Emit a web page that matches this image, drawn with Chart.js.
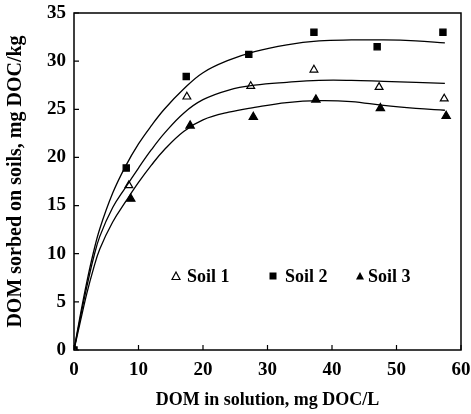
<!DOCTYPE html>
<html>
<head>
<meta charset="utf-8">
<script src="https://cdn.jsdelivr.net/npm/chart.js@4.4.1/dist/chart.umd.min.js"></script>
<style>
  html, body { margin: 0; padding: 0; background: #fff; }
  #wrap { width: 471px; height: 414px; position: relative; }
</style>
</head>
<body>
<div id="wrap"><canvas id="chart"></canvas></div>
<script>
// measured points (DOM in solution, DOM sorbed)
const soil1X = [0, 8.5, 17.5, 27.4, 37.2, 47.3, 57.4];
const soil1Y = [0, 17.1, 26.3, 27.4, 29.1, 27.3, 26.1];
const soil2X = [0, 8.1, 17.4, 27.1, 37.2, 47.0, 57.2];
const soil2Y = [0, 18.9, 28.4, 30.7, 33.0, 31.5, 33.0];
const soil3X = [0, 8.8, 18.0, 27.8, 37.5, 47.5, 57.7];
const soil3Y = [0, 15.7, 23.3, 24.2, 26.0, 25.1, 24.3];

// fitted curves
const fitX = [0, 1, 2, 3, 4, 6, 8, 10, 12, 14, 17, 20, 24, 28, 33, 38, 43, 48, 53, 57.5];
const fit1Y = [0, 3.4, 6.6, 9.5, 11.8, 14.8, 16.9, 18.9, 20.8, 22.5, 24.6, 26.0, 27.0, 27.5, 27.8, 28.0, 28.0, 27.9, 27.8, 27.7];
const fit2Y = [0, 3.7, 7.1, 10.1, 12.6, 16.3, 19.1, 21.4, 23.3, 25.0, 27.1, 28.8, 30.1, 31.0, 31.7, 32.1, 32.2, 32.2, 32.1, 31.9];
const fit3Y = [0, 3.0, 5.9, 8.4, 10.5, 13.3, 15.4, 17.4, 19.2, 20.8, 22.7, 23.9, 24.7, 25.2, 25.7, 25.9, 25.8, 25.4, 25.1, 24.9];

const legendLabels = ["Soil 1", "Soil 2", "Soil 3"];

const xy = (xs, ys) => xs.map((x, i) => ({ x: x, y: ys[i] }));
const serif = "'Liberation Serif', 'DejaVu Serif', serif";

function fitLine(ys) {
  return {
    type: "line",
    data: xy(fitX, ys),
    borderColor: "#000",
    borderWidth: 1.3,
    pointRadius: 0,
    tension: 0.4,
    fill: false
  };
}

function marks(xs, ys, style, fillColor, r) {
  return {
    type: "scatter",
    data: xy(xs, ys),
    pointStyle: style,
    pointRadius: r,
    pointBackgroundColor: fillColor,
    pointBorderColor: "#000",
    pointBorderWidth: 1.2
  };
}

// box around plot + inward tick marks
const framePlugin = {
  id: "frame",
  afterDraw(chart) {
    const { ctx, chartArea: a, scales } = chart;
    ctx.save();
    ctx.strokeStyle = "#000";
    ctx.lineWidth = 1.5;
    ctx.strokeRect(a.left, a.top, a.right - a.left, a.bottom - a.top);
    ctx.lineWidth = 1.2;
    ctx.beginPath();
    scales.x.ticks.forEach(t => {
      const px = scales.x.getPixelForValue(t.value);
      ctx.moveTo(px, a.bottom);
      ctx.lineTo(px, a.bottom - 5);
    });
    scales.y.ticks.forEach(t => {
      const py = scales.y.getPixelForValue(t.value);
      ctx.moveTo(a.left, py);
      ctx.lineTo(a.left + 5, py);
    });
    ctx.stroke();
    ctx.restore();
  }
};

// legend sits inside the plot
const legendPlugin = {
  id: "inlineLegend",
  afterDraw(chart) {
    const { ctx } = chart;
    const y = 276;
    const items = [
      { mx: 176, tx: 187, shape: "tri", fill: false },
      { mx: 273, tx: 285, shape: "rect", fill: true },
      { mx: 360, tx: 368, shape: "tri", fill: true }
    ];
    ctx.save();
    ctx.fillStyle = "#000";
    ctx.strokeStyle = "#000";
    ctx.lineWidth = 1.2;
    ctx.font = "bold 18px " + serif;
    ctx.textBaseline = "middle";
    items.forEach((it, i) => {
      ctx.beginPath();
      if (it.shape === "rect") {
        ctx.rect(it.mx - 3.5, y - 3.5, 7, 7);
      } else {
        ctx.moveTo(it.mx, y - 4);
        ctx.lineTo(it.mx + 4, y + 3.5);
        ctx.lineTo(it.mx - 4, y + 3.5);
        ctx.closePath();
      }
      if (it.fill) ctx.fill(); else ctx.stroke();
      ctx.fillText(legendLabels[i], it.tx, y + 1);
    });
    ctx.restore();
  }
};

new Chart(document.getElementById("chart"), {
  data: {
    datasets: [
      fitLine(fit1Y),
      fitLine(fit2Y),
      fitLine(fit3Y),
      marks(soil1X, soil1Y, "triangle", "#fff", 4.5),
      marks(soil2X, soil2Y, "rect", "#000", 4.4),
      marks(soil3X, soil3Y, "triangle", "#000", 4.8)
    ]
  },
  options: {
    responsive: true,
    maintainAspectRatio: false,
    animation: false,
    layout: { padding: { top: 13, right: 10, left: 0, bottom: 0 } },
    plugins: {
      legend: { display: false },
      tooltip: { enabled: false }
    },
    scales: {
      x: {
        type: "linear",
        min: 0,
        max: 60,
        grid: { display: false, drawTicks: false },
        border: { display: false },
        ticks: {
          stepSize: 10,
          color: "#000",
          padding: 9,
          font: { family: serif, size: 19, weight: "bold" }
        },
        title: {
          display: true,
          text: "DOM in solution, mg DOC/L",
          color: "#000",
          font: { family: serif, size: 18, weight: "bold" },
          padding: { top: 4, bottom: 3 }
        },
        afterFit: s => {
          s.height = 64;
          s.paddingLeft = 0;
          s.paddingRight = 0;
        }
      },
      y: {
        type: "linear",
        min: 0,
        max: 35,
        grid: { display: false, drawTicks: false },
        border: { display: false },
        ticks: {
          stepSize: 5,
          color: "#000",
          padding: 8,
          font: { family: serif, size: 19, weight: "bold" }
        },
        title: {
          display: true,
          text: "DOM sorbed on soils, mg DOC/kg",
          color: "#000",
          font: { family: serif, size: 20, weight: "bold" },
          padding: { top: 4, bottom: 4 }
        },
        afterFit: s => {
          s.width = 74;
          s.paddingTop = 0;
          s.paddingBottom = 0;
        }
      }
    }
  },
  plugins: [framePlugin, legendPlugin]
});
</script>
</body>
</html>
